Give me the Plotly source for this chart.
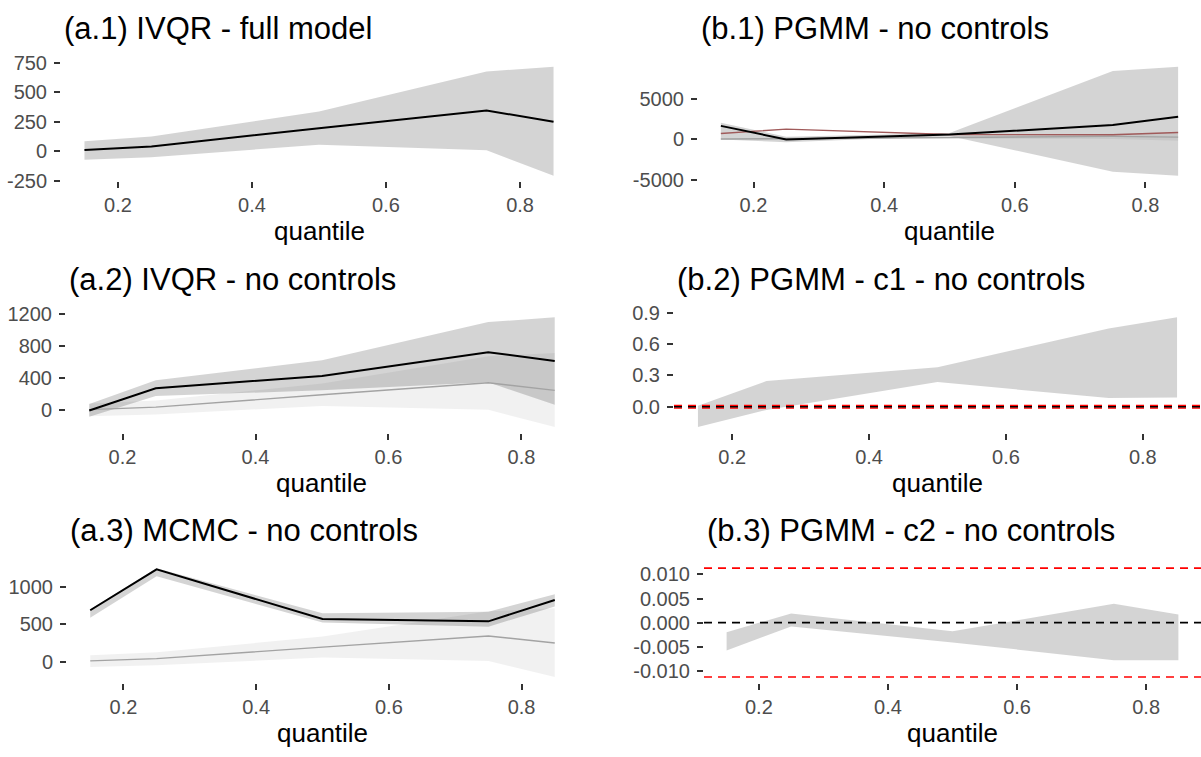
import plotly.graph_objects as go

# Quantile grid shared by all panels
quantiles = [0.15, 0.25, 0.5, 0.75, 0.85]
x_tick_vals = [0.2, 0.4, 0.6, 0.8]
x_tick_text = ["0.2", "0.4", "0.6", "0.8"]

# (a.1) IVQR - full model
ivqr_full_est = [10, 41, 195, 345, 250]
ivqr_full_lo = [-72, -50, 55, 8, -207]
ivqr_full_hi = [85, 125, 336, 675, 716]

# (a.2) IVQR - no controls
ivqr_nc_est = [0, 275, 430, 725, 615]
ivqr_nc_lo = [-80, 180, 250, 350, 70]
ivqr_nc_hi = [80, 375, 625, 1100, 1160]

# (a.3) MCMC - no controls
mcmc_est = [690, 1240, 572, 541, 828]
mcmc_lo = [590, 1145, 525, 470, 740]
mcmc_hi = [705, 1255, 650, 670, 905]

# (b.1) PGMM - no controls
pgmm_est = [1640, -40, 560, 1760, 2760]
pgmm_lo = [-40, -400, 400, -4040, -4520]
pgmm_hi = [2040, 280, 750, 8440, 8960]

# (b.2) PGMM - c1 - no controls
c1_lo = [-0.194, -0.031, 0.236, 0.083, 0.089]
c1_hi = [0.009, 0.245, 0.378, 0.748, 0.855]

# (b.3) PGMM - c2 - no controls
c2_lo = [-0.0058, -0.0008, -0.0041, -0.0078, -0.0078]
c2_hi = [-0.0020, 0.0019, -0.0018, 0.0039, 0.0017]

# tolerance bounds drawn as dashed reference lines
tolerance = 0.0113

# y tick labels per panel
a1_ticks = [-250, 0, 250, 500, 750]
a1_labels = ["-250", "0", "250", "500", "750"]
a2_ticks = [0, 400, 800, 1200]
a2_labels = ["0", "400", "800", "1200"]
a3_ticks = [0, 500, 1000]
a3_labels = ["0", "500", "1000"]
b1_ticks = [-5000, 0, 5000]
b1_labels = ["-5000", "0", "5000"]
b2_ticks = [0.0, 0.3, 0.6, 0.9]
b2_labels = ["0.0", "0.3", "0.6", "0.9"]
b3_ticks = [-0.010, -0.005, 0.0, 0.005, 0.010]
b3_labels = ["-0.010", "-0.005", "0.000", "0.005", "0.010"]

titles = [
    "(a.1) IVQR - full model",
    "(a.2) IVQR - no controls",
    "(a.3) MCMC - no controls",
    "(b.1) PGMM - no controls",
    "(b.2) PGMM - c1 - no controls",
    "(b.3) PGMM - c2 - no controls",
]

W, H = 1201, 757
FONT = "Liberation Sans, Arial, sans-serif"
BAND = "rgba(0,0,0,0.17)"
BAND_LIGHT = "rgba(0,0,0,0.055)"

# panel boxes in pixels: (left, right, top, bottom)
rows = [(52.7, 176.0), (310.4, 434.6), (568.5, 691.7)]
boxes = [
    (61, 577, *rows[0]),
    (66, 578, *rows[1]),
    (67, 578, *rows[2]),
    (698, 1201, *rows[0]),
    (674, 1201, *rows[1]),
    (704, 1201, *rows[2]),
]

fig = go.Figure()


def padded(values):
    lo, hi = min(values), max(values)
    d = (hi - lo) * 0.05
    return [lo - d, hi + d]


def band(i, lo, hi, color):
    fig.add_trace(go.Scatter(
        x=quantiles + quantiles[::-1], y=hi + lo[::-1],
        fill="toself", fillcolor=color, mode="lines",
        line=dict(width=0), hoverinfo="skip", showlegend=False,
        xaxis=f"x{i}", yaxis=f"y{i}"))


def line(i, y, color, width):
    fig.add_trace(go.Scatter(
        x=quantiles, y=y, mode="lines", line=dict(color=color, width=width),
        hoverinfo="skip", showlegend=False, xaxis=f"x{i}", yaxis=f"y{i}"))


def hline(i, y, color):
    fig.add_shape(type="line", xref=f"x{i} domain", x0=0, x1=1,
                  yref=f"y{i}", y0=y, y1=y,
                  line=dict(color=color, width=1.6, dash="8px,6px"))


# (a.1)
band(1, ivqr_full_lo, ivqr_full_hi, BAND)
line(1, ivqr_full_est, "black", 2.0)
# (a.2) with full-model estimate in the background
band(2, ivqr_full_lo, ivqr_full_hi, BAND_LIGHT)
band(2, ivqr_nc_lo, ivqr_nc_hi, BAND)
line(2, ivqr_full_est, "#A3A3A3", 1.4)
line(2, ivqr_nc_est, "black", 2.0)
# (a.3)
band(3, ivqr_full_lo, ivqr_full_hi, BAND_LIGHT)
band(3, mcmc_lo, mcmc_hi, BAND)
line(3, ivqr_full_est, "#A3A3A3", 1.4)
line(3, mcmc_est, "black", 2.0)
# (b.1)
band(4, pgmm_lo, pgmm_hi, BAND)
band(4, ivqr_full_lo, ivqr_full_hi, BAND_LIGHT)
line(4, ivqr_full_est, "#A3A3A3", 1.4)
line(4, mcmc_est, "#A05A5A", 1.4)
line(4, pgmm_est, "black", 2.0)
# (b.2)
band(5, c1_lo, c1_hi, BAND)
# (b.3)
band(6, c2_lo, c2_hi, BAND)

for i in (5, 6):
    hline(i, tolerance, "#FF0000")
    hline(i, -tolerance, "#FF0000")
    hline(i, 0, "black")

y_ranges = [
    padded(ivqr_full_lo + ivqr_full_hi),
    padded(ivqr_nc_lo + ivqr_nc_hi + ivqr_full_lo + ivqr_full_hi),
    padded(mcmc_lo + mcmc_hi + ivqr_full_lo + ivqr_full_hi),
    padded(pgmm_lo + pgmm_hi),
    padded(c1_lo + c1_hi + [tolerance, -tolerance]),
    padded(c2_lo + c2_hi + [tolerance, -tolerance]),
]
y_ticks = [(a1_ticks, a1_labels), (a2_ticks, a2_labels), (a3_ticks, a3_labels),
           (b1_ticks, b1_labels), (b2_ticks, b2_labels), (b3_ticks, b3_labels)]
x_range = padded(quantiles)

axis_common = dict(showgrid=False, zeroline=False, showline=False,
                   ticks="outside", ticklen=6, tickwidth=1.5,
                   tickcolor="#333333",
                   tickfont=dict(family=FONT, size=20, color="#4D4D4D"))

layout = dict(width=W, height=H, margin=dict(l=0, r=0, t=0, b=0),
              paper_bgcolor="white", plot_bgcolor="white",
              showlegend=False, annotations=[])

for k, (l, r, t, b) in enumerate(boxes):
    i = k + 1
    xd = [l / W, r / W]
    yd = [1 - b / H, 1 - t / H]
    layout[f"xaxis{i}"] = dict(domain=xd, anchor=f"y{i}", range=x_range,
                               tickvals=x_tick_vals, ticktext=x_tick_text,
                               **axis_common)
    tv, tt = y_ticks[k]
    layout[f"yaxis{i}"] = dict(domain=yd, anchor=f"x{i}", range=y_ranges[k],
                               tickvals=tv, ticktext=tt, ticklabelstandoff=3,
                               **axis_common)
    # panel title, left-aligned with the panel
    layout["annotations"].append(dict(
        text=titles[k], x=(l + 1) / W, y=1 - (t - 33.4) / H,
        xref="paper", yref="paper", xanchor="left", yanchor="middle",
        showarrow=False, font=dict(family=FONT, size=31, color="black")))
    # x-axis title centred under the panel
    layout["annotations"].append(dict(
        text="quantile", x=(l + r) / 2 / W, y=1 - (b + 51.5) / H,
        xref="paper", yref="paper", xanchor="center", yanchor="middle",
        showarrow=False, font=dict(family=FONT, size=26, color="black")))

fig.update_layout(**layout)
fig.write_html("out.html")
